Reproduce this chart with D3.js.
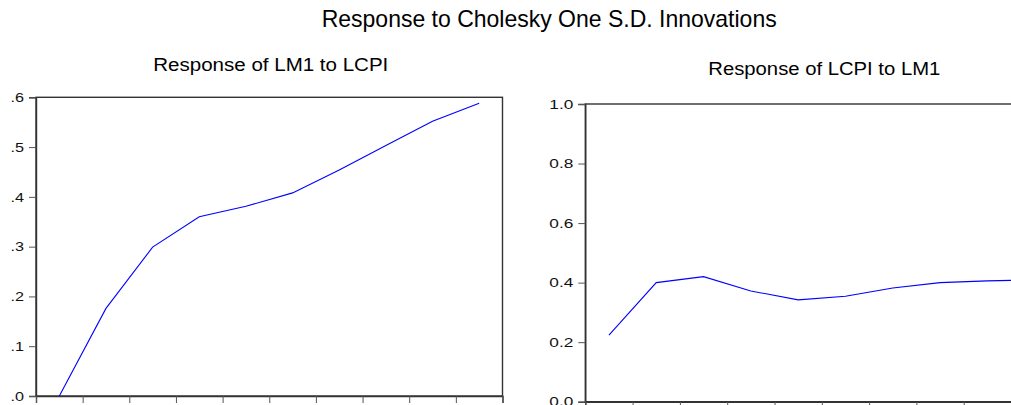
<!DOCTYPE html>
<html>
<head>
<meta charset="utf-8">
<script src="https://cdn.jsdelivr.net/npm/d3@7"></script>
<style>
  html, body { margin: 0; padding: 0; background: #fff; overflow: hidden; }
  svg { display: block; font-family: "Liberation Sans", Arial, sans-serif; }
</style>
</head>
<body>
<svg id="chart" width="1011" height="405"></svg>
<script>
// ---- data ----
const periods = [1, 2, 3, 4, 5, 6, 7, 8, 9, 10];
const lm1ToLcpi = [0.0, 0.176, 0.299, 0.360, 0.381, 0.408, 0.454, 0.503, 0.552, 0.588];
const lcpiToLm1 = [0.224, 0.400, 0.420, 0.372, 0.342, 0.354, 0.382, 0.400, 0.406, 0.409];
const leftTicks = [0.0, 0.1, 0.2, 0.3, 0.4, 0.5, 0.6];
const rightTicks = [0.0, 0.2, 0.4, 0.6, 0.8, 1.0];
const xTicks = [0, 1, 2, 3, 4, 5, 6, 7, 8, 9, 10];
const mainTitle = "Response to Cholesky One S.D. Innovations";
const leftTitle = "Response of LM1 to LCPI";
const rightTitle = "Response of LCPI to LM1";

const svg = d3.select("#chart");

svg.append("text")
  .attr("x", 321.7).attr("y", 26.5)
  .attr("font-size", 24)
  .attr("textLength", 455).attr("lengthAdjust", "spacingAndGlyphs")
  .attr("fill", "#000")
  .text(mainTitle);

function panel(cfg) {
  const x = d3.scaleLinear().domain([0, 10]).range([cfg.left, cfg.right]);
  const y = d3.scaleLinear().domain(cfg.yDomain).range([cfg.bottom, cfg.top]);
  const g = svg.append("g");

  // title
  g.append("text")
    .attr("x", cfg.titleX).attr("y", cfg.titleY)
    .attr("font-size", 17.5)
    .attr("textLength", cfg.titleW).attr("lengthAdjust", "spacingAndGlyphs")
    .attr("fill", "#000")
    .text(cfg.title);

  // frame
  g.append("rect")
    .attr("x", cfg.left).attr("y", cfg.top)
    .attr("width", cfg.right - cfg.left).attr("height", cfg.bottom - cfg.top)
    .attr("fill", "none").attr("stroke", "#333").attr("stroke-width", 1.4);

  // y axis
  const ya = g.append("g")
    .attr("transform", `translate(${cfg.left},0)`)
    .call(d3.axisLeft(y).tickValues(cfg.yTicks).tickSize(7).tickPadding(5).tickFormat(cfg.fmt));
  ya.attr("font-size", 13).attr("font-family", "Liberation Sans, Arial, sans-serif");
  ya.select(".domain").attr("stroke", "#333").attr("stroke-width", 1.4);
  ya.selectAll(".tick line").attr("stroke", "#555");
  ya.selectAll(".tick text")
    .attr("fill", "#111")
    .attr("textLength", cfg.labelW).attr("lengthAdjust", "spacingAndGlyphs");

  // x axis
  const xa = g.append("g")
    .attr("transform", `translate(0,${cfg.bottom})`)
    .call(d3.axisBottom(x).tickValues(xTicks).tickSize(7).tickFormat(""));
  xa.select(".domain").attr("stroke", "#333").attr("stroke-width", 1.4);
  xa.selectAll(".tick line").attr("stroke", "#555");

  // line
  const line = d3.line()
    .x((d, i) => x(periods[i] - 0.5))
    .y(d => y(d));
  g.append("path")
    .datum(cfg.values)
    .attr("d", line)
    .attr("fill", "none")
    .attr("stroke", "#0000ff")
    .attr("stroke-width", 1.1);
}

panel({
  left: 36, right: 502.5, top: 97.3, bottom: 396,
  yDomain: [0, 0.6], yTicks: leftTicks,
  fmt: d => d3.format(".1f")(d).replace(/^0\./, "."),
  labelW: 13.5,
  values: lm1ToLcpi,
  title: leftTitle, titleX: 153.3, titleY: 71, titleW: 235
});

panel({
  left: 585.3, right: 1058.3, top: 104, bottom: 401.7,
  yDomain: [0, 1.0], yTicks: rightTicks,
  fmt: d3.format(".1f"),
  labelW: 24,
  values: lcpiToLm1,
  title: rightTitle, titleX: 708.3, titleY: 75, titleW: 232
});
</script>
</body>
</html>
